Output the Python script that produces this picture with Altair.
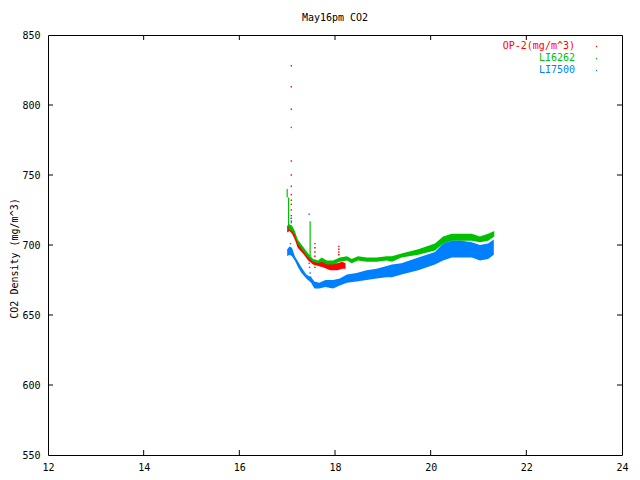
import altair as alt
import pandas as pd

FONT = "DejaVu Sans Mono"
RED, GREEN, BLUE = "#ff0000", "#00c000", "#0080ff"

chart_title = "May16pm CO2"
y_title = "CO2 Density (mg/m^3)"
legend_names = ["OP-2(mg/m^3)", "LI6262", "LI7500"]
legend_colors = [RED, GREEN, BLUE]

x_ticks = [12, 14, 16, 18, 20, 22, 24]
y_ticks = [550, 600, 650, 700, 750, 800, 850]

# OP-2 (red) band: time, low, high
op2_x = [17.00, 17.05, 17.10, 17.16, 17.22, 17.33, 17.44, 17.54, 17.65, 17.76, 17.90, 18.05, 18.15, 18.22]
op2_lo = [709, 710, 708, 704, 698, 694, 689, 686, 685, 684, 682, 682, 683, 683]
op2_hi = [714, 714, 713, 709, 703, 697, 692, 689, 688, 688, 687, 687, 688, 687]
# OP-2 scattered dots
op2_dot_x = [17.087] * 13 + [17.58] * 7 + [18.08] * 4
op2_dot_y = [828, 813, 797, 760, 750, 742, 736, 732, 729, 725, 721, 719, 717,
             701, 698, 695, 692, 689, 686, 684,
             699, 697, 695, 693]

# LI6262 (green) band
li62_x = [17.03, 17.10, 17.16, 17.22, 17.33, 17.44, 17.54, 17.65, 17.72, 17.83, 17.96, 18.10, 18.25,
          18.35, 18.48, 18.66, 18.87, 19.08, 19.19, 19.39, 19.74, 20.09, 20.26, 20.44, 20.65,
          20.86, 21.03, 21.20, 21.33]
li62_lo = [711, 710, 707, 701, 696, 691, 688, 687, 688, 686, 686, 688, 689,
           687, 689, 688, 688, 689, 688, 691, 693, 696, 701, 703, 703,
           703, 702, 703, 706]
li62_hi = [715, 714, 710, 704, 699, 694, 690, 689, 691, 689, 689, 691, 692,
           690, 692, 691, 691, 692, 692, 694, 697, 701, 706, 708, 708,
           708, 706, 708, 710]
# LI6262 spikes: time, from, to
li62_spike_x = [17.00, 17.03, 17.48]
li62_spike_lo = [734, 713, 692]
li62_spike_hi = [740, 734, 717]

# LI7500 (blue) band
li75_x = [17.00, 17.05, 17.10, 17.16, 17.23, 17.30, 17.40, 17.50, 17.57, 17.67, 17.80, 17.96, 18.10,
          18.25, 18.45, 18.66, 18.87, 19.08, 19.19, 19.39, 19.74, 20.09, 20.26, 20.44, 20.65,
          20.86, 21.03, 21.20, 21.32]
li75_lo = [692, 693, 692, 689, 684, 680, 676, 673, 669, 669, 670, 669, 671,
           673, 674, 675, 676, 677, 677, 679, 682, 686, 689, 691, 691,
           691, 689, 690, 693]
li75_hi = [697, 699, 698, 692, 688, 684, 679, 677, 674, 673, 675, 675, 676,
           679, 680, 682, 683, 685, 686, 687, 691, 695, 701, 703, 703,
           702, 700, 701, 704]
li75_dot_x = [17.087, 17.087, 17.087, 17.07, 17.46, 17.46, 17.47, 17.48, 17.49]
li75_dot_y = [784, 719, 716, 701, 722, 687, 684, 680, 677]

W, H = 574, 420
xs = alt.Scale(domain=[12, 24], nice=False, zero=False)
ys = alt.Scale(domain=[550, 850], nice=False, zero=False)

XAX = alt.Axis(values=x_ticks, title=None, ticks=False, domain=False,
               grid=False, labelPadding=7, labelFont=FONT, labelFlush=False,
               labelFontSize=10, labelColor="black", format="d")
YAX = alt.Axis(values=y_ticks, title=y_title, ticks=False, domain=False,
               grid=False, labelPadding=8, labelFont=FONT, labelFlush=False,
               labelFontSize=10, labelColor="black", format="d",
               titleFont=FONT, titleFontSize=10, titleFontWeight="normal",
               titleColor="black", titleAngle=270, titleX=-34, titleY=223,
               titleAlign="center", titleBaseline="middle")


def X(f):
    return alt.X(f, scale=xs, axis=XAX)


def Y(f):
    return alt.Y(f, scale=ys, axis=YAX)


def band(xv, lo, hi, color):
    df = pd.DataFrame({"x": xv, "lo": lo, "hi": hi})
    return alt.Chart(df).mark_area(color=color, opacity=1, strokeWidth=0).encode(
        x=X("x:Q"), y=Y("lo:Q"), y2="hi:Q")


def dots(xv, yv, color):
    df = pd.DataFrame({"x": xv, "y": yv})
    return alt.Chart(df).mark_square(color=color, size=2, opacity=1).encode(
        x=X("x:Q"), y=Y("y:Q"))


def spikes(xv, lo, hi, color):
    df = pd.DataFrame({"x": xv, "lo": lo, "hi": hi})
    return alt.Chart(df).mark_rule(color=color, strokeWidth=1.2).encode(
        x=X("x:Q"), y=Y("lo:Q"), y2="hi:Q")


xt_df = pd.DataFrame({"t": x_ticks[1:-1]})
yt_df = pd.DataFrame({"t": y_ticks[1:-1]})
tick_bottom = alt.Chart(xt_df).mark_rule(color="black").encode(
    x=X("t:Q"), y=alt.value(H), y2=alt.value(H - 5))
tick_top = alt.Chart(xt_df).mark_rule(color="black").encode(
    x=X("t:Q"), y=alt.value(0), y2=alt.value(5))
tick_left = alt.Chart(yt_df).mark_rule(color="black").encode(
    y=Y("t:Q"), x=alt.value(0), x2=alt.value(5))
tick_right = alt.Chart(yt_df).mark_rule(color="black").encode(
    y=Y("t:Q"), x=alt.value(W), x2=alt.value(W - 5))

title_df = pd.DataFrame({"label": [chart_title]})
title = alt.Chart(title_df).mark_text(font=FONT, fontSize=10, color="black", align="center",
                                      baseline="middle").encode(
    text="label:N", x=alt.value(W / 2), y=alt.value(-17.5))

leg_layers = []
for i, (name, col) in enumerate(zip(legend_names, legend_colors)):
    ldf = pd.DataFrame({"label": [name]})
    leg_layers.append(alt.Chart(ldf).mark_text(font=FONT, fontSize=10, color=col, align="right",
                                               baseline="middle").encode(
        text="label:N", x=alt.value(527), y=alt.value(11 + 12 * i)))
    leg_layers.append(alt.Chart(ldf).mark_square(color=col, size=1.5, opacity=1).encode(
        x=alt.value(548.5), y=alt.value(11.5 + 12 * i)))

chart = alt.layer(
    band(op2_x, op2_lo, op2_hi, RED),
    dots(op2_dot_x, op2_dot_y, RED),
    band(li62_x, li62_lo, li62_hi, GREEN),
    spikes(li62_spike_x, li62_spike_lo, li62_spike_hi, GREEN),
    band(li75_x, li75_lo, li75_hi, BLUE),
    dots(li75_dot_x, li75_dot_y, BLUE),
    tick_bottom, tick_top, tick_left, tick_right,
    title,
    *leg_layers,
).properties(
    width=W, height=H,
    autosize=alt.AutoSizeParams(type="none"),
    padding={"left": 40, "top": 27, "right": 10, "bottom": 17},
    background="white",
).configure_view(stroke="black", strokeWidth=1)

chart.save("out.html", embed_options={"renderer": "svg", "actions": False})
